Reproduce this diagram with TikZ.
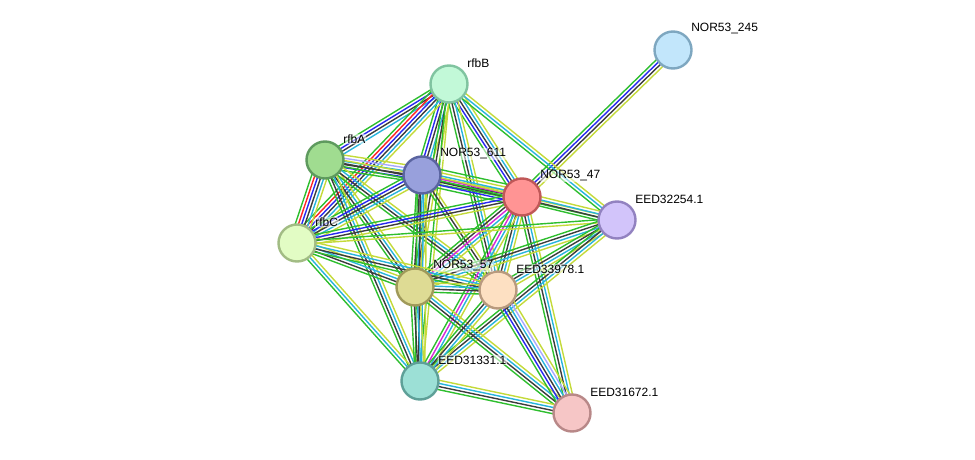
\documentclass[tikz,border=0pt]{standalone}
\usepackage{fontspec}
\setmainfont{Liberation Sans}
\usetikzlibrary{calc,backgrounds}
\definecolor{nb}{HTML}{2EBE2E}
\definecolor{fu}{HTML}{FF2424}
\definecolor{cooc}{HTML}{2828F0}
\definecolor{co}{HTML}{3C3C3C}
\definecolor{ex}{HTML}{D828D8}
\definecolor{db}{HTML}{28B4DC}
\definecolor{hom}{HTML}{A8A8FF}
\definecolor{tm}{HTML}{C4DA3A}
\definecolor{fN}{HTML}{C2E6FB}\definecolor{dN}{HTML}{7EA7C0}
\definecolor{fB}{HTML}{C2F9D8}\definecolor{dB}{HTML}{80C4A0}
\definecolor{fA}{HTML}{A0DC90}\definecolor{dA}{HTML}{5E9A5E}
\definecolor{fS}{HTML}{98A0DC}\definecolor{dS}{HTML}{5A64A0}
\definecolor{fR}{HTML}{FF9494}\definecolor{dR}{HTML}{C05858}
\definecolor{fP}{HTML}{D2C4FA}\definecolor{dP}{HTML}{9282C0}
\definecolor{fC}{HTML}{E2FCC4}\definecolor{dC}{HTML}{A2BC84}
\definecolor{fQ}{HTML}{DEDB94}\definecolor{dQ}{HTML}{A09A5A}
\definecolor{fO}{HTML}{FDE0C2}\definecolor{dO}{HTML}{B89A7E}
\definecolor{fT}{HTML}{9CE0D6}\definecolor{dT}{HTML}{5EA098}
\definecolor{fK}{HTML}{F6C6C6}\definecolor{dK}{HTML}{B88888}
\newcommand\sedge[3]{%
  \xdef\ncol{0}%
  \foreach \c in {#3}{\pgfmathtruncatemacro\tmp{\ncol+1}\xdef\ncol{\tmp}}%
  \foreach \c [count=\i] in {#3}{%
    \pgfmathsetmacro\off{(\i-(\ncol+1)/2)*3.1}%
    \draw[\c, line width=1.4pt] ($(#1)!\off pt!90:(#2)$) -- ($(#2)!\off pt!-90:(#1)$);
  }%
}
\tikzset{
  prot/.style={circle, minimum size=37pt, inner sep=0pt, line width=2.4pt, fill=f#1, draw=d#1},
  plabel/.style={anchor=west, font=\fontsize{12pt}{12pt}\selectfont, inner sep=0.6pt,
    fill=white, fill opacity=0.55, text opacity=1, rounded corners=2pt}
}
\begin{document}
\begin{tikzpicture}[x=1pt,y=-1pt]
\useasboundingbox (0,0) rectangle (975,460);
\node[prot=N] (N) at (673,50) {};
\node[prot=B] (B) at (449,84) {};
\node[prot=A] (A) at (325,160) {};
\node[prot=S] (S) at (422,175) {};
\node[prot=R] (R) at (522,197) {};
\node[prot=P] (P) at (617,220) {};
\node[prot=C] (C) at (297,243) {};
\node[prot=Q] (Q) at (415,287) {};
\node[prot=O] (O) at (498,290) {};
\node[prot=T] (T) at (420,381) {};
\node[prot=K] (K) at (572,413) {};
\begin{scope}[on background layer]
\sedge{N}{R}{nb,cooc,co,tm}
\sedge{B}{A}{nb,cooc,co,db}
\sedge{B}{S}{nb,cooc,co,db,tm}
\sedge{B}{R}{nb,cooc,co,db,tm}
\sedge{B}{P}{nb,db,tm}
\sedge{B}{C}{nb,fu,cooc,co,db,tm}
\sedge{B}{Q}{nb,co,tm}
\sedge{B}{O}{nb,co,db,tm}
\sedge{B}{T}{nb,tm}
\sedge{A}{S}{nb,cooc,co,db,hom,tm}
\sedge{A}{R}{nb,co,tm}
\sedge{A}{C}{nb,fu,cooc,co,db,tm}
\sedge{A}{Q}{nb,co,db,tm}
\sedge{A}{O}{nb,co,db,tm}
\sedge{A}{T}{nb,co,db,tm}
\sedge{S}{R}{nb,cooc,co,ex,db,tm,nb}
\sedge{S}{C}{nb,cooc,co,db,tm}
\sedge{S}{Q}{nb,co,db,tm}
\sedge{S}{O}{nb,co,tm}
\sedge{S}{T}{nb,co,db,tm}
\sedge{S}{P}{nb,tm}
\sedge{R}{P}{nb,co,db,tm}
\sedge{R}{C}{nb,cooc,co,tm}
\sedge{R}{Q}{nb,co,ex,db,tm}
\sedge{R}{O}{nb,co,db,tm}
\sedge{R}{T}{nb,ex,db,tm}
\sedge{R}{K}{nb,co,db,tm}
\sedge{P}{C}{nb,tm}
\sedge{P}{Q}{nb,co,db,tm}
\sedge{P}{O}{nb,co,db,tm}
\sedge{P}{T}{nb,co,db,tm}
\sedge{C}{Q}{nb,co,db,tm}
\sedge{C}{O}{nb,co,db,tm}
\sedge{C}{T}{nb,db,tm}
\sedge{Q}{O}{nb,co,db,tm}
\sedge{Q}{T}{nb,co,db,tm}
\sedge{Q}{K}{nb,co,db,tm}
\sedge{O}{T}{nb,co,db,tm}
\sedge{O}{K}{nb,cooc,co,db,hom,tm}
\sedge{T}{K}{nb,co,db,tm}
\end{scope}
\foreach \n/\t in {N/NOR53\_245, B/rfbB, A/rfbA, S/NOR53\_611, R/NOR53\_47, P/EED32254.1, C/rfbC, Q/NOR53\_57, O/EED33978.1, T/EED31331.1, K/EED31672.1}{
  \node[plabel] (L\n) at ($(\n)+(17.5,-21)$) {\t};
}
\end{tikzpicture}
\end{document}
